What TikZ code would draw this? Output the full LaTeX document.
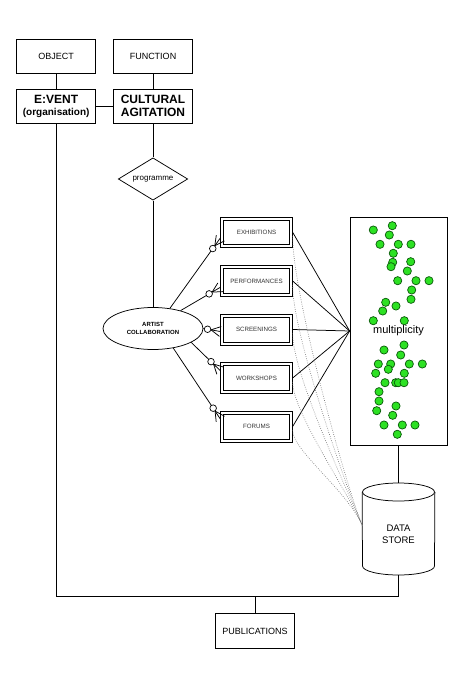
\documentclass[tikz,border=0pt]{standalone}
\usepackage{fontspec}
\setmainfont{Liberation Sans}
\usetikzlibrary{shapes.geometric,calc}
\definecolor{gfill}{RGB}{45,225,35}
\definecolor{gline}{RGB}{10,90,10}
\begin{document}
\begin{tikzpicture}[x=1pt,y=-1pt, line width=0.75pt,
  box/.style={draw, minimum width=79pt, minimum height=34.4pt, inner sep=1pt, align=center},
  act/.style={draw, line width=0.7pt, minimum width=71.6pt, minimum height=30.8pt, inner sep=0pt, font=\fontsize{6.2}{7}\selectfont, text=black!80},
  gdot/.style={circle, draw=gline, fill=gfill, line width=0.7pt, minimum size=8.2pt, inner sep=0pt},
  dotline/.style={line width=0.6pt, black!55, dash pattern=on 0.7pt off 1.5pt},
  ]
\useasboundingbox (0,0) rectangle (473,682);
\fill[white] (0,0) rectangle (473,682);

% top boxes
\node[box, font=\fontsize{9}{11}\selectfont] (obj) at (56.2,56.5) {OBJECT};
\node[box, font=\fontsize{9}{11}\selectfont] (fun) at (153,56.5) {FUNCTION};
\node[box, font=\bfseries\fontsize{12}{12}\selectfont] (event) at (56.2,106.2) {E:VENT\\[-0.5pt]{\fontsize{10}{11}\selectfont(organisation)}};
\node[box, font=\bfseries\fontsize{12}{13.3}\selectfont] (cult) at (153,106.2) {CULTURAL\\AGITATION};
\draw (obj) -- (event);
\draw (fun) -- (cult);
\draw (event) -- (cult);

% programme diamond
\node[draw, diamond, aspect=1.64, minimum width=69.4pt, minimum height=42.3pt, inner sep=0pt, font=\fontsize{8}{9}\selectfont] (prog) at (153,179) {programme};
\draw (cult) -- (prog);

% artist collaboration
\node[draw, ellipse, minimum width=100pt, minimum height=42pt, inner sep=0pt, align=center, font=\bfseries\fontsize{6}{8}\selectfont] (ac) at (153,328.5) {ARTIST\\COLLABORATION};
\draw (prog.south) -- (ac.north);

% activity boxes (double border)
\foreach \n/\y/\t in {1/232.3/EXHIBITIONS, 2/281/PERFORMANCES, 3/329.5/SCREENINGS, 4/378/WORKSHOPS, 5/426.5/FORUMS}{
  \node[act] (b\n) at (256.5,\y) {\t};
  \draw[line width=0.7pt] ($(b\n.south west)+(3.4,-3.3)$) rectangle ($(b\n.north east)+(-3.4,3.3)$);
}

% multiplicity circles
\foreach \p [count=\i] in {(373.3,230),(392.3,225.7),(389.3,235),(380,244.3),(398.3,244.3),(411,244.3),(393.3,253.3),(392.7,262.3),(391,266.7),(410.7,261.7),(407.3,271),(397.7,280.7),(416,280.7),(429,280.7),(411.7,290),(411,299.3),(385.7,302.3),(382.7,311),(396,306),(373.3,320.7),(404.3,320.7),
  (404,345),(384,350),(400.7,355),(378.3,364),(390.7,364),(409.3,364),(422.3,364),(388.3,369.3),(404.3,373.3),(375.7,373.3),(385,382.7),(395.7,382.7),(398.3,382.7),(404,382.7),(379,391.7),(379,401),(396,406),(376.7,410.7),(392.7,415.3),(384,425),(402.3,425),(415,425),(397.3,434.3)}
  \node[gdot] (g\i) at \p {};
\node[draw, minimum width=97pt, minimum height=228pt, inner sep=0pt, font=\fontsize{11}{12}\selectfont] (mult) at (398.5,331) {multiplicity};

% lines boxes -> multiplicity
\foreach \n in {1,...,5}
  \draw (b\n.east) -- (mult.west);

% crow's foot links from artist collaboration
\foreach \n/\a/\o in {1/50/5.7, 2/33/6.3, 3/0/2, 4/340/-7.3, 5/316/-7.5}{
  \coordinate (s\n) at (ac.\a);
  \coordinate (e\n) at ($(b\n.west)+(0,\o)$);
  \draw (s\n) -- (e\n);
  \draw ($(e\n)!5pt!90:(s\n)$) -- ($(e\n)!9.5pt!(s\n)$) -- ($(e\n)!5pt!-90:(s\n)$);
  \draw[fill=white, line width=0.7pt] ($(e\n)!13pt!(s\n)$) circle[radius=3.3pt];
}

% data store
\node[draw, ellipse, minimum width=72pt, minimum height=18pt, inner sep=0pt] (dstopell) at (398.5,492) {};
\coordinate (dsbl) at (362.5,566);
\coordinate (dsbr) at (434.5,566);
\coordinate (dsbot) at (398.5,575);
\draw (dstopell.west) -- (dsbl) .. controls (362.5,570.97) and (378.6,575) .. (dsbot) .. controls (418.4,575) and (434.5,570.97) .. (dsbr) -- (dstopell.east);
\node[font=\fontsize{9.5}{11.7}\selectfont, align=center] (ds) at (398.5,534) {DATA\\STORE};
\draw (mult.south) -- (dstopell.north);

% dotted links to data store
\coordinate (dsin) at (362.5,526);
\foreach \n/\c in {1/60, 2/50, 3/40, 4/30, 5/20}
  \draw[dotline] ($(b\n.east)+(0,4)$) .. controls +(0,\c) and +(-15,-35) .. (dsin);

% bottom bus and publications
\coordinate (bus) at (56.2,596);
\draw (dsbot) |- (bus) -- (event.south);
\node[box, font=\fontsize{9}{11}\selectfont] (pub) at (255,631) {PUBLICATIONS};
\draw (pub.north) -- (pub.north |- bus);
\end{tikzpicture}
\end{document}
